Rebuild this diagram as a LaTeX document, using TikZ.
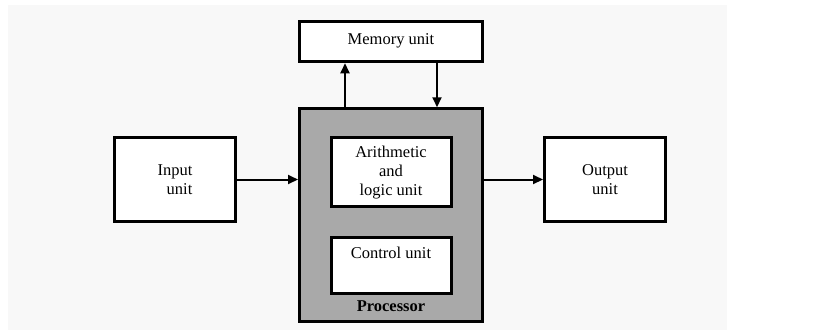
\documentclass[tikz,border=0pt]{standalone}
\usepackage{fontspec}
\setmainfont{Liberation Serif}
\usepackage{xcolor}
\usetikzlibrary{positioning, arrows.meta}

\definecolor{pagegray}{HTML}{F8F8F8}
\definecolor{procgray}{HTML}{A9A9A9}

\begin{document}
\begin{tikzpicture}[
    x=1pt, y=-1pt,
    every node/.style={
        font=\fontsize{16.5}{19}\selectfont
    },
    unitbox/.style={
        draw, 
        fill=white,
        line width=3pt,
        inner sep=0pt,
        minimum width=121pt, 
        minimum height=84pt, 
        align=center
    },
    innerbox/.style={
        unitbox,
        minimum width=120pt
    },
    procbox/.style={
        draw,
        fill=procgray,
        line width=3pt,
        minimum width=183pt,
        minimum height=212.5pt
    },
    arrow/.style={
        -{Triangle[length=10pt, width=9pt]}, 
        line width=2pt
    }
]

% page
\useasboundingbox (0,0) rectangle (837,330);
\fill [pagegray] (8,5) rectangle (727,330);

% Processor and what sits in it
\node (proc) [procbox] at (391,215) {};
\node (alu) [innerbox, minimum height=69pt, below=29pt of proc.north] {Arithmetic\\and\\logic unit};
\node (ctl) [innerbox, minimum height=55.5pt, text height=20.5pt, text depth=35pt, below=28pt of alu] {Control unit};
\node (plbl) [font=\fontsize{16.5}{19}\selectfont\bfseries, anchor=base] at ([yshift=11pt]proc.south) {Processor};

% Top Row
\node (mem) [unitbox, minimum width=183pt, minimum height=40pt, text height=11pt, text depth=6pt, above=44pt of proc] {Memory unit};

% Left and right
\node (inp) [unitbox, align=right] at (175,179.5) {Input\\unit};
\node (out) [unitbox] at (605,179.5) {Output\\unit};

% Connections
\draw [arrow] (inp) -- (proc.west |- inp);
\draw [arrow] (proc.east |- out) -- (out);
\draw [arrow] ([xshift=-46pt]proc.north) -- ([xshift=-46pt]proc.north |- mem.south);
\draw [arrow] ([xshift=46pt]proc.north |- mem.south) -- ([xshift=46pt]proc.north);

\end{tikzpicture}
\end{document}
